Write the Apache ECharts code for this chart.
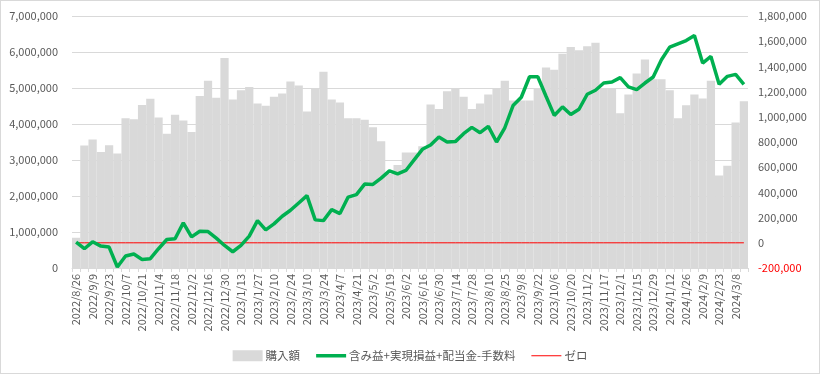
<!DOCTYPE html>
<html>
<head>
<meta charset="utf-8">
<script src="https://cdn.jsdelivr.net/npm/echarts@6/dist/echarts.min.js"></script>
<style>
html,body{margin:0;padding:0;background:#fff;}
#chart{width:820px;height:374px;box-sizing:border-box;border:1px solid #d9d9d9;}
</style>
</head>
<body>
<div id="chart"></div>
<script>
const categories = [
"2022/8/26","2022/9/2","2022/9/9","2022/9/16","2022/9/23","2022/9/30","2022/10/7","2022/10/14","2022/10/21","2022/10/28",
"2022/11/4","2022/11/11","2022/11/18","2022/11/25","2022/12/2","2022/12/9","2022/12/16","2022/12/23","2022/12/30","2023/1/6",
"2023/1/13","2023/1/20","2023/1/27","2023/2/3","2023/2/10","2023/2/17","2023/2/24","2023/3/3","2023/3/10","2023/3/17",
"2023/3/24","2023/3/31","2023/4/7","2023/4/14","2023/4/21","2023/4/28","2023/5/2","2023/5/12","2023/5/19","2023/5/26",
"2023/6/2","2023/6/9","2023/6/16","2023/6/23","2023/6/30","2023/7/7","2023/7/14","2023/7/21","2023/7/28","2023/8/4",
"2023/8/10","2023/8/18","2023/8/25","2023/9/1","2023/9/8","2023/9/15","2023/9/22","2023/9/29","2023/10/6","2023/10/13",
"2023/10/20","2023/10/27","2023/11/2","2023/11/10","2023/11/17","2023/11/24","2023/12/1","2023/12/8","2023/12/15","2023/12/22",
"2023/12/29","2024/1/5","2024/1/12","2024/1/19","2024/1/26","2024/2/2","2024/2/9","2024/2/16","2024/2/23","2024/3/1",
"2024/3/8","2024/3/15"
];

// 購入額 (yen)
const purchase = [
840000,3400000,3570000,3220000,3410000,3180000,4160000,4130000,4530000,4700000,
4180000,3730000,4260000,4100000,3780000,4780000,5200000,4730000,5830000,4680000,
4940000,5030000,4570000,4510000,4760000,4850000,5180000,5070000,4350000,4980000,
5450000,4680000,4600000,4160000,4160000,4120000,3910000,3520000,2620000,2860000,
3210000,3210000,3380000,4540000,4420000,4910000,5000000,4760000,4420000,4570000,
4820000,4980000,5200000,4650000,4650000,4650000,4990000,5570000,5510000,5950000,
6140000,6050000,6160000,6260000,4970000,4970000,4300000,4820000,5400000,5790000,
5240000,5240000,4940000,4160000,4520000,4820000,4710000,5200000,2570000,2840000,
4040000,4630000
];

// 含み益+実現損益+配当金-手数料 (yen)
const profit = [
5000,-47000,8000,-26000,-34000,-192000,-105000,-89000,-132000,-126000,
-47000,26000,32000,158000,47000,92000,89000,37000,-21000,-71000,
-21000,53000,176000,103000,150000,211000,258000,316000,374000,182000,
176000,263000,232000,363000,382000,466000,463000,513000,571000,547000,
574000,658000,742000,776000,839000,800000,803000,866000,916000,874000,
924000,800000,913000,1089000,1155000,1318000,1318000,1163000,1011000,1079000,
1018000,1060000,1179000,1211000,1268000,1276000,1311000,1237000,1216000,1268000,
1316000,1453000,1553000,1579000,1605000,1645000,1426000,1479000,1258000,1321000,
1337000,1258000
];

// ゼロ reference line
const zeroLine = categories.map(() => 0);

const leftTicks = {min: 0, max: 7000000, interval: 1000000};
const rightTicks = {min: -200000, max: 1800000, interval: 200000};

const font = "'Noto Sans CJK JP', 'Noto Sans', sans-serif";
const fmt = v => v.toLocaleString('en-US');

const chart = echarts.init(document.getElementById('chart'), null, {renderer: 'canvas'});
chart.setOption({
  animation: false,
  textStyle: {fontFamily: font},
  grid: {left: 71, right: 71, top: 15, bottom: 105, containLabel: false},
  legend: {
    top: 344,
    left: 'center',
    itemGap: 16,
    itemWidth: 30,
    itemHeight: 11,
    symbolKeepAspect: true,
    textStyle: {color: '#595959', fontSize: 11.5, fontFamily: font, padding: [0, 0, 0, -2]},
    data: [
      {name: '購入額', icon: 'rect'},
      {name: '含み益+実現損益+配当金-手数料', icon: 'path://M0,0H30V3.5H0Z'},
      {name: 'ゼロ', icon: 'path://M0,0H30V1H0Z'}
    ]
  },
  xAxis: {
    type: 'category',
    data: categories,
    boundaryGap: true,
    axisLine: {lineStyle: {color: '#d9d9d9'}},
    axisTick: {show: true, interval: 0, length: 4, lineStyle: {color: '#d9d9d9'}},
    axisLabel: {interval: 1, rotate: 90, color: '#595959', fontSize: 11, fontFamily: font, margin: 6}
  },
  yAxis: [
    {
      type: 'value',
      min: leftTicks.min, max: leftTicks.max, interval: leftTicks.interval,
      axisLine: {show: false},
      axisTick: {show: false},
      splitLine: {lineStyle: {color: '#d9d9d9'}},
      axisLabel: {color: '#595959', fontSize: 11, fontFamily: font, margin: 14, formatter: fmt}
    },
    {
      type: 'value',
      min: rightTicks.min, max: rightTicks.max, interval: rightTicks.interval,
      position: 'right',
      axisLine: {show: false},
      axisTick: {show: false},
      splitLine: {show: false},
      axisLabel: {
        fontSize: 11, fontFamily: font, margin: 10, formatter: fmt,
        color: v => (Number(v) < 0 ? '#ff0000' : '#595959')
      }
    }
  ],
  series: [
    {
      name: '購入額',
      type: 'bar',
      yAxisIndex: 0,
      data: purchase,
      barCategoryGap: '0%',
      itemStyle: {color: '#d9d9d9'}
    },
    {
      name: 'ゼロ',
      type: 'line',
      yAxisIndex: 1,
      data: zeroLine,
      symbol: 'none',
      lineStyle: {color: '#ff0000', width: 1},
      itemStyle: {color: '#ff0000'},
      z: 3
    },
    {
      name: '含み益+実現損益+配当金-手数料',
      type: 'line',
      yAxisIndex: 1,
      data: profit,
      symbol: 'none',
      lineStyle: {color: '#00b050', width: 3.5},
      itemStyle: {color: '#00b050'},
      z: 4
    }
  ]
});
</script>
</body>
</html>
